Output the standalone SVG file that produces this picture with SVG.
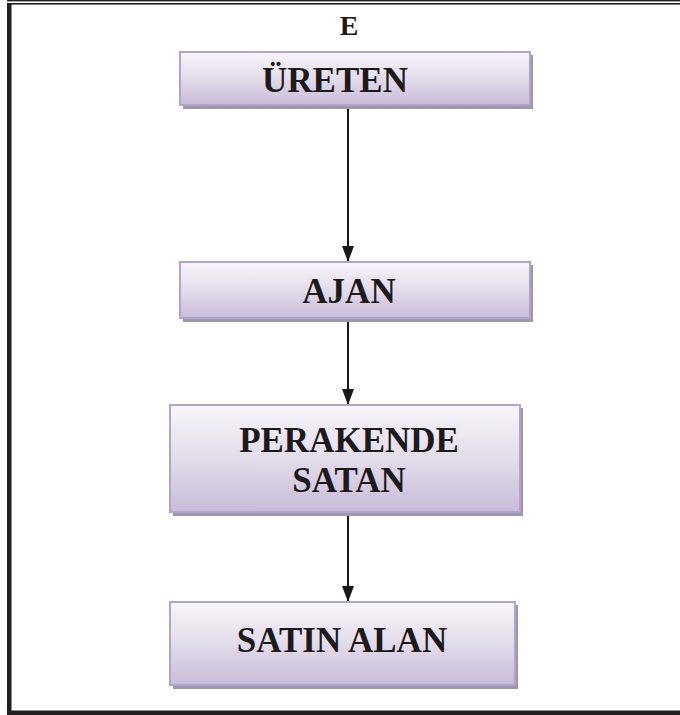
<svg xmlns="http://www.w3.org/2000/svg" width="680" height="715" viewBox="0 0 680 715">
  <defs>
    <linearGradient id="boxFill" x1="0" y1="0" x2="0" y2="1">
      <stop offset="0" stop-color="#f7f5fa"/>
      <stop offset="0.5" stop-color="#e3dcea"/>
      <stop offset="1" stop-color="#c8bbd8"/>
    </linearGradient>
    <marker id="arrow" viewBox="0 0 16 12" refX="16" refY="6" markerWidth="16" markerHeight="12" markerUnits="userSpaceOnUse" orient="auto">
      <path d="M0,0 L16,6 L0,12 Z" fill="#1a1a1a"/>
    </marker>
  </defs>
  <style>
    .frame { fill: #231f20; }
    .shadow { fill: #9d97a8; }
    .box { fill: url(#boxFill); stroke: #b3a2d0; stroke-width: 2; }
    .label { font-family: "Liberation Serif", "Times New Roman", serif; font-weight: bold; font-size: 35px; fill: #1c1a1b; text-anchor: middle; }
    .title { font-family: "Liberation Serif", "Times New Roman", serif; font-weight: bold; font-size: 28px; fill: #1c1a1b; text-anchor: middle; }
    .link { stroke: #1a1a1a; stroke-width: 2; fill: none; marker-end: url(#arrow); }
  </style>

  <rect width="680" height="715" fill="#ffffff"/>

  <!-- page frame -->
  <g id="frame">
    <rect class="frame" x="7" y="0" width="673" height="1.4"/>
    <rect class="frame" x="7" y="3" width="673" height="1.6"/>
    <rect class="frame" x="7" y="3" width="4.5" height="712"/>
    <rect class="frame" x="7" y="710.5" width="673" height="4.5"/>
  </g>

  <text class="title" x="349" y="35">E</text>

  <!-- connectors -->
  <g id="connectors">
    <line class="link" x1="348" y1="105" x2="348" y2="262"/>
    <line class="link" x1="348" y1="318" x2="348" y2="405"/>
    <line class="link" x1="348" y1="512" x2="348" y2="602"/>
  </g>

  <g id="node-ureten">
    <rect class="shadow" x="183" y="55" width="350" height="54"/>
    <rect class="box" x="180" y="52" width="350" height="53"/>
    <text class="label" x="335" y="92">ÜRETEN</text>
  </g>

  <g id="node-ajan">
    <rect class="shadow" x="183" y="265" width="350" height="57"/>
    <rect class="box" x="180" y="262" width="350" height="56"/>
    <text class="label" x="349" y="303">AJAN</text>
  </g>

  <g id="node-perakende">
    <rect class="shadow" x="173" y="408" width="350" height="108"/>
    <rect class="box" x="170" y="405" width="350" height="107"/>
    <text class="label" x="349" y="452">PERAKENDE</text>
    <text class="label" x="349" y="492">SATAN</text>
  </g>

  <g id="node-satin-alan">
    <rect class="shadow" x="173" y="605" width="345" height="84"/>
    <rect class="box" x="170" y="602" width="345" height="83"/>
    <text class="label" x="342" y="652">SATIN ALAN</text>
  </g>
</svg>
